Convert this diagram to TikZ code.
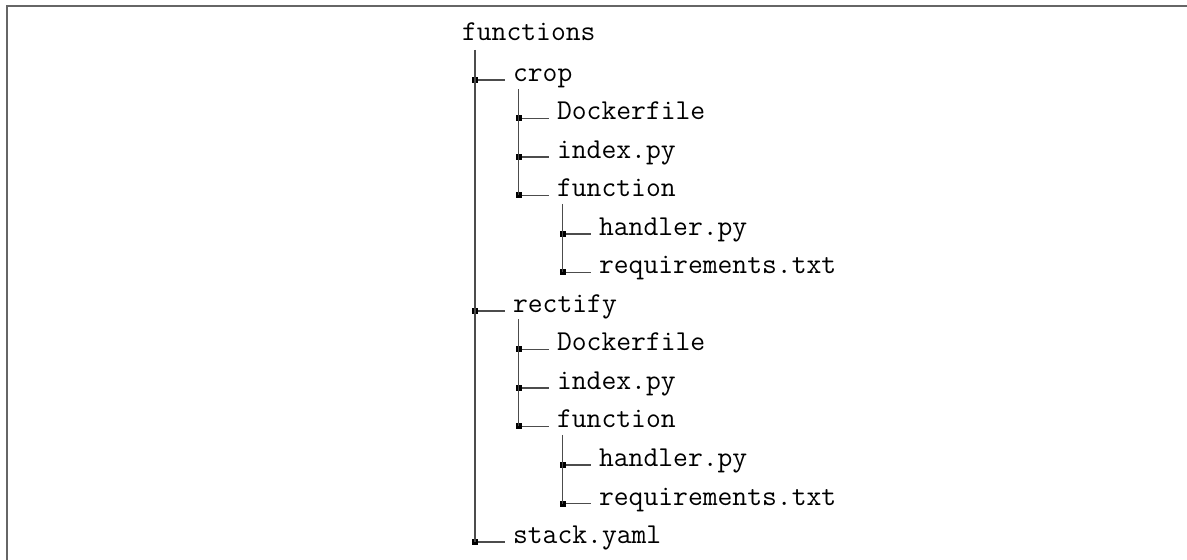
\documentclass[tikz,border=0pt]{standalone}
\usetikzlibrary{calc}
\begin{document}
\begin{tikzpicture}[x=0.5pt,y=-0.5pt,
  entry/.style={anchor=base west,inner sep=0pt,outer sep=0pt,font=\fontsize{14.4pt}{17pt}\selectfont\ttfamily},
  branch/.style={draw=black!70,line width=0.8pt},
  knot/.style={fill=black,rectangle,minimum size=3pt,inner sep=0pt,outer sep=0pt},
  frameline/.style={draw=black!60,line width=1pt}]
\useasboundingbox (0,0) rectangle (1187,560);
\draw[frameline] (7,560) -- (7,6) -- (1187,6);
\node[entry] (root) at (462,41) {functions};
% name / text x / parent line x / row / text
\foreach \nm/\tx/\px/\i/\txt in {
  crop/513/475/1/crop,
  cdock/557/518.5/2/Dockerfile,
  cindex/557/518.5/3/index.py,
  cfunc/557/518.5/4/function,
  chand/599/562.5/5/handler.py,
  creq/599/562.5/6/requirements.txt,
  rect/513/475/7/rectify,
  rdock/557/518.5/8/Dockerfile,
  rindex/557/518.5/9/index.py,
  rfunc/557/518.5/10/function,
  rhand/599/562.5/11/handler.py,
  rreq/599/562.5/12/requirements.txt,
  stack/513/475/13/stack.yaml}{
  \coordinate (k\i) at (\px,{80+(\i-1)*38.5});
  \node[entry] (\nm) at (\tx,{81.5+(\i-1)*38.5}) {\txt};
  \draw[branch] (k\i) -- ($(\nm.base west)+(-8,-1.5)$);
  \node[knot] (q\i) at (k\i) {};
}
\draw[branch] ($(root.base west)+(13,9)$) coordinate (r0) -- (r0 |- k13);
\draw[branch] ($(crop.base west)+(5.5,8)$) coordinate (r1) -- (r1 |- k4);
\draw[branch] ($(cfunc.base west)+(5.5,7)$) coordinate (r2) -- (r2 |- k6);
\draw[branch] ($(rect.base west)+(5.5,7)$) coordinate (r3) -- (r3 |- k10);
\draw[branch] ($(rfunc.base west)+(5.5,7)$) coordinate (r4) -- (r4 |- k12);
\end{tikzpicture}
\end{document}
